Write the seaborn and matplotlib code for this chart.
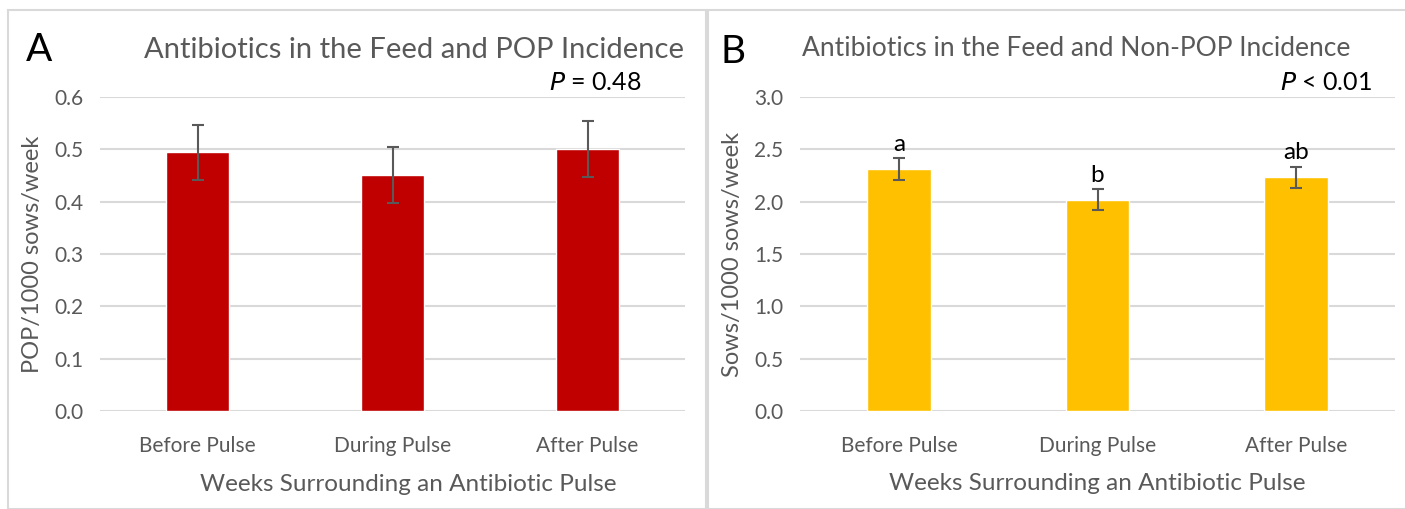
import numpy as np
import pandas as pd
import seaborn as sns
import matplotlib.pyplot as plt
from matplotlib.patches import Rectangle

# data
periods = ['Before Pulse', 'During Pulse', 'After Pulse']
pop_mean = [0.494, 0.451, 0.501]
pop_err = [0.053, 0.054, 0.054]
nonpop_mean = [2.31, 2.02, 2.235]
nonpop_err = [0.105, 0.10, 0.10]
nonpop_letters = ['a', 'b', 'ab']

sns.set_theme(style='white')
plt.rcParams['font.family'] = ['Lato', 'DejaVu Sans']

grey = '#595959'
fig = plt.figure(figsize=(14.05, 5.09), dpi=100)

# panel frames
fig.patches.append(Rectangle((8/1405, 0), 698/1405, 499/509, transform=fig.transFigure,
                             fill=False, edgecolor='#d9d9d9', linewidth=1.5))
fig.patches.append(Rectangle((708/1405, 0), 700/1405, 499/509, transform=fig.transFigure,
                             fill=False, edgecolor='#d9d9d9', linewidth=1.5))

axA = fig.add_axes([100/1405, 1-411/509, 585/1405, 314/509])
axB = fig.add_axes([800/1405, 1-411/509, 595/1405, 314/509])


def draw(ax, means, errs, color, ymax, step, ylabel):
    df = pd.DataFrame({'period': periods, 'value': means})
    sns.barplot(data=df, x='period', y='value', color=color, width=0.32,
                saturation=1, errorbar=None, ax=ax, zorder=3)
    ax.errorbar(range(len(periods)), means, yerr=errs, fmt='none', ecolor=grey,
                elinewidth=1.5, capsize=4.5, capthick=1.5, zorder=4)
    ax.set_ylim(0, ymax)
    ax.set_yticks(np.arange(0, ymax + step/2, step))
    ax.set_yticklabels([f'{v:.1f}' for v in np.arange(0, ymax + step/2, step)])
    ax.set_xlim(-0.5, 2.5)
    ax.yaxis.grid(True, color='#d9d9d9', linewidth=1.5, zorder=0)
    ax.set_axisbelow(True)
    for s in ax.spines.values():
        s.set_visible(False)
    ax.tick_params(axis='both', colors=grey, labelsize=15, length=0)
    ax.tick_params(axis='x', pad=18)
    ax.tick_params(axis='y', pad=12)
    ax.set_xlabel('Weeks Surrounding an Antibiotic Pulse', color=grey, fontsize=17.5, labelpad=12)
    ax.set_ylabel(ylabel, color=grey, fontsize=17, labelpad=8)


draw(axA, pop_mean, pop_err, '#C00000', 0.6, 0.1, 'POP/1000 sows/week')
draw(axB, nonpop_mean, nonpop_err, '#FFC000', 3.0, 0.5, 'Sows/1000 sows/week')
# panel A's axis title sits a little right of centre in the original
axA.xaxis.set_label_coords(0.527, -0.2)

for i, (m, e, t) in enumerate(zip(nonpop_mean, nonpop_err, nonpop_letters)):
    axB.text(i, m + e + 0.03, t, ha='center', va='bottom', fontsize=17.5, color='black')

fig.text(26/1405, 1-50/509, 'A', fontsize=28, color='black', va='center')
fig.text(720/1405, 1-52/509, 'B', fontsize=28, color='black', va='center')
fig.text(414/1405, 1-50/509, 'Antibiotics in the Feed and POP Incidence',
         fontsize=21, color=grey, ha='center', va='center')
fig.text(1076/1405, 1-48/509, 'Antibiotics in the Feed and Non-POP Incidence',
         fontsize=19, color=grey, ha='center', va='center')
fig.text(642/1405, 1-82/509, r'$\it{P}$ = 0.48', fontsize=18, color='black', ha='right', va='center')
fig.text(1372/1405, 1-82/509, r'$\it{P}$ < 0.01', fontsize=18, color='black', ha='right', va='center')

plt.savefig('out.png', dpi=100)
